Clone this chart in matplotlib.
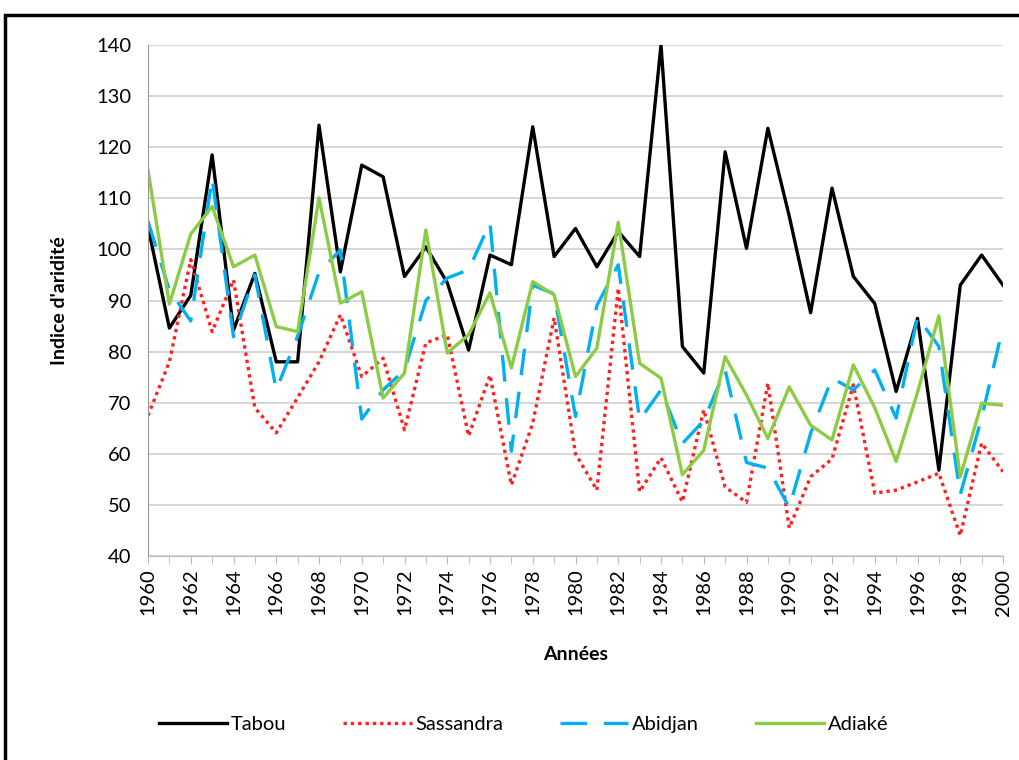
import numpy as np
import matplotlib
matplotlib.use("Agg")
import matplotlib.pyplot as plt
from matplotlib.patches import Rectangle

plt.rcParams['font.family'] = ['Lato', 'DejaVu Sans']

years = np.arange(1960, 2001)

tabou = [104.4, 84.6, 91, 118.5, 84.2, 95.3, 78, 78, 124.3, 95.6,
         116.5, 114.2, 94.7, 100.5, 93.5, 80.3, 98.9, 97, 124, 98.6,
         104.1, 96.6, 103.5, 98.6, 140, 81, 75.8, 119.1, 100.2, 123.7,
         106.5, 87.6, 112, 94.7, 89.4, 72.2, 86.5, 56.8, 93, 98.9, 93]
sassandra = [67.5, 78, 98, 83.9, 94, 69, 64.1, 71, 78, 87.2,
             75.1, 78.7, 64.7, 81.7, 83.3, 63.5, 75.4, 53.9, 66, 86.6,
             60, 52.9, 92.4, 52.6, 59.2, 50.6, 68.6, 53.5, 50.5, 73.8,
             45.5, 55.5, 59, 73.5, 52.3, 52.9, 54.5, 56.2, 44, 62.1, 56.5]
abidjan = [105.5, 92, 86, 114, 82.9, 95, 72.5, 83, 95.5, 99.9,
           66.8, 72.5, 76.4, 90, 94.4, 96, 105.2, 60.5, 93, 91.3,
           67.3, 89, 97, 66.6, 72.5, 62, 66.5, 76.4, 58.3, 57.2,
           49.5, 64, 74.8, 72.5, 76.4, 67, 86.8, 81, 52, 67, 84.9]
adiake = [115.5, 89.3, 103, 108.4, 96.6, 98.9, 84.9, 83.9, 110.1, 89.5,
          91.7, 70.9, 75.8, 103.8, 79.7, 83.3, 91.5, 76.8, 93.7, 91.1,
          75.1, 80.7, 105.3, 77.7, 74.8, 55.9, 60.7, 79, 71.5, 63,
          73.1, 65.6, 62.7, 77.4, 69, 58.5, 72, 87, 55.5, 69.9, 69.5]

fig = plt.figure(figsize=(10.19, 7.6), dpi=100)
# outer chart border (cropped on right/bottom)
fig.patches.append(Rectangle((5/1019, -0.1), 1.2, 1 - 15/760 + 0.1,
                             transform=fig.transFigure, fill=False,
                             edgecolor='black', linewidth=2.5))

ax = fig.add_axes([148/1019, 1 - 556/760, 855/1019, 511/760])

ax.plot(years, tabou, color='black', lw=2.4, label='Tabou')
ax.plot(years, sassandra, color='#FF2020', lw=2.4, ls=(0, (1, 1.2)), label='Sassandra')
ax.plot(years, abidjan, color='#00B0F0', lw=2.4, ls=(0, (8, 5)), label='Abidjan')
ax.plot(years, adiake, color='#8CCB45', lw=2.4, label='Adiaké')

ax.set_xlim(1960, 2000)
ax.set_ylim(40, 140)
ax.set_yticks(np.arange(40, 141, 10))
ax.set_xticks(years[::2])
ax.set_xticks(years, minor=True)
ax.set_xticklabels([str(y) for y in years[::2]], rotation=90, fontsize=14.5)
ax.tick_params(axis='y', length=0, labelsize=14.5, pad=12)
ax.tick_params(axis='x', which='both', length=6, color='#BBBBBB', pad=3)

ax.grid(axis='y', color='#D0D0D0', lw=1.2)
ax.set_axisbelow(True)
for s in ['top', 'right']:
    ax.spines[s].set_visible(False)
ax.spines['left'].set_color('#999999')
ax.spines['bottom'].set_color('#BBBBBB')

ax.set_xlabel('Années', fontsize=14, fontweight='bold', labelpad=22)
ax.set_ylabel("Indice d'aridité", fontsize=14, fontweight='bold', labelpad=20)

fig.legend(loc='center', bbox_to_anchor=(0.514, 1 - 724/760), ncol=4,
           frameon=False, fontsize=14.5, handlelength=3.4, columnspacing=2.8,
           handletextpad=0.2)

fig.savefig('out.png', dpi=100)
